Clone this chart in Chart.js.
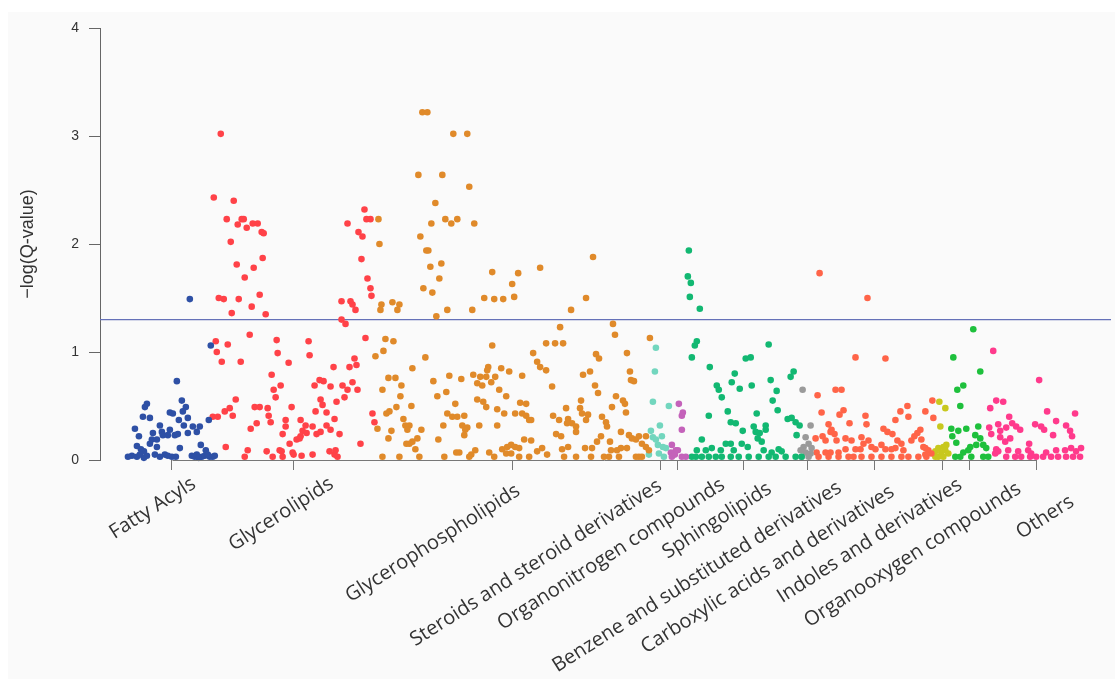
<!DOCTYPE html>
<html>
<head>
<meta charset="utf-8">
<script src="https://cdn.jsdelivr.net/npm/chart.js"></script>
<style>
  html, body { margin: 0; padding: 0; background: #fff; }
  #panel { position: absolute; left: 8px; top: 12px; width: 1107px; height: 667px; background: #fafafa; }
  #wrap { position: absolute; left: 0; top: 0; width: 1115px; height: 679px; }
</style>
</head>
<body>
<div id="panel"></div>
<div id="wrap"><canvas id="chart" width="1115" height="679"></canvas></div>
<script>
// categories, tick positions (metabolite order) and the significance line
const categories = ['Fatty Acyls', 'Glycerolipids', 'Glycerophospholipids', 'Steroids and steroid derivatives',
  'Organonitrogen compounds', 'Sphingolipids', 'Benzene and substituted derivatives',
  'Carboxylic acids and derivatives', 'Indoles and derivatives', 'Organooxygen compounds', 'Others'];
const tickPos = [72, 194, 413, 562, 579, 645, 709, 776, 844, 871, 938];
const yTicks = [0, 1, 2, 3, 4];
const threshold = 1.3;

// [order, -log(Q)] per class
const fattyAcyls = [[90,1.49],[111,1.06],[77,0.73],[82,0.55],[47,0.52],[45,0.49],[86,0.49],[83,0.45],[43,0.40],[50,0.39],[70,0.44],[73,0.43],[88,0.39],[79,0.37],[109,0.37],[60,0.32],[84,0.32],[93,0.31],[100,0.31],[35,0.29],[53,0.25],[62,0.26],[70,0.28],[88,0.25],[97,0.26],[39,0.22],[52,0.19],[57,0.19],[63,0.23],[68,0.23],[75,0.23],[78,0.24],[50,0.15],[101,0.14],[37,0.13],[41,0.10],[44,0.08],[57,0.12],[80,0.11],[106,0.09],[32,0.04],[37,0.03],[47,0.04],[55,0.05],[65,0.05],[72,0.03],[92,0.04],[95,0.03],[102,0.03],[110,0.03],[28,0.03],[40,0.05],[44,0.02],[60,0.03],[68,0.04],[76,0.03],[97,0.05],[99,0.02],[105,0.04],[108,0.05],[113,0.03],[115,0.04]];
const glycerolipids = [[121,3.02],[114,2.43],[134,2.40],[127,2.23],[142,2.23],[144,2.23],[138,2.18],[147,2.15],[153,2.19],[158,2.19],[162,2.11],[164,2.10],[131,2.02],[163,1.87],[137,1.81],[154,1.78],[145,1.69],[119,1.50],[124,1.49],[139,1.49],[160,1.53],[152,1.42],[132,1.36],[166,1.35],[150,1.16],[116,1.10],[128,1.07],[177,1.11],[209,1.10],[117,1.00],[178,0.99],[210,0.97],[122,0.91],[141,0.91],[189,0.90],[234,0.86],[172,0.79],[181,0.69],[215,0.69],[220,0.74],[224,0.73],[231,0.68],[174,0.65],[176,0.58],[136,0.56],[221,0.56],[237,0.54],[223,0.51],[155,0.49],[160,0.49],[168,0.48],[192,0.49],[130,0.48],[125,0.45],[216,0.45],[227,0.44],[113,0.40],[118,0.40],[133,0.41],[169,0.41],[186,0.37],[201,0.37],[157,0.34],[171,0.35],[186,0.31],[206,0.32],[213,0.31],[227,0.32],[231,0.28],[151,0.29],[203,0.27],[207,0.25],[217,0.24],[221,0.26],[183,0.24],[201,0.22],[197,0.19],[200,0.20],[190,0.15],[126,0.12],[148,0.09],[167,0.08],[180,0.09],[182,0.08],[193,0.07],[194,0.05],[202,0.04],[213,0.05],[230,0.08],[235,0.05],[183,0.03],[173,0.03],[145,0.03],[265,2.32],[248,2.19],[267,2.23],[271,2.23],[259,2.11],[263,2.07],[262,1.86],[268,1.68],[271,1.59],[272,1.52],[242,1.47],[251,1.47],[253,1.44],[256,1.39],[242,1.30],[246,1.26],[266,1.13],[255,0.94],[257,0.88],[250,0.86],[253,0.72],[243,0.69],[248,0.65],[258,0.65],[245,0.58],[273,0.43],[275,0.35],[235,0.38],[240,0.24],[261,0.15],[236,0.09],[238,0.03]];
const glycerophospholipids = [[323,3.22],[328,3.22],[354,3.02],[368,3.02],[319,2.64],[343,2.64],[370,2.53],[336,2.38],[279,2.23],[346,2.23],[358,2.23],[352,2.19],[332,2.19],[375,2.19],[321,2.07],[280,2.00],[327,1.94],[329,1.94],[331,1.79],[342,1.82],[340,1.68],[324,1.59],[333,1.55],[393,1.74],[419,1.73],[413,1.63],[441,1.78],[385,1.50],[395,1.49],[404,1.49],[415,1.51],[282,1.44],[281,1.39],[293,1.46],[300,1.44],[298,1.39],[348,1.39],[373,1.39],[337,1.33],[286,1.12],[294,1.10],[284,1.01],[276,0.96],[326,0.95],[393,1.06],[434,0.99],[447,1.08],[438,0.91],[441,0.86],[447,0.83],[313,0.85],[389,0.86],[388,0.83],[402,0.85],[410,0.82],[423,0.78],[374,0.79],[381,0.77],[387,0.77],[396,0.77],[289,0.76],[296,0.76],[350,0.78],[362,0.75],[334,0.73],[302,0.69],[378,0.71],[383,0.69],[392,0.72],[283,0.65],[347,0.63],[400,0.65],[338,0.59],[301,0.59],[407,0.59],[378,0.56],[384,0.54],[356,0.52],[387,0.49],[421,0.53],[427,0.52],[312,0.50],[297,0.49],[398,0.47],[290,0.45],[287,0.43],[348,0.43],[353,0.40],[358,0.40],[365,0.41],[405,0.43],[416,0.43],[423,0.43],[427,0.41],[430,0.37],[432,0.37],[304,0.38],[310,0.32],[306,0.32],[308,0.28],[380,0.32],[398,0.32],[363,0.32],[368,0.30],[366,0.28],[365,0.23],[344,0.32],[278,0.29],[292,0.27],[322,0.28],[289,0.20],[318,0.20],[313,0.17],[307,0.15],[310,0.15],[339,0.19],[425,0.19],[432,0.18],[316,0.10],[403,0.10],[408,0.12],[412,0.14],[416,0.12],[420,0.11],[357,0.07],[360,0.07],[376,0.09],[390,0.07],[372,0.05],[407,0.06],[412,0.06],[438,0.08],[443,0.11],[430,0.03],[448,0.05],[283,0.03],[300,0.03],[320,0.03],[345,0.03],[370,0.03],[395,0.03],[420,0.03],
  [494,1.88],[487,1.50],[472,1.39],[514,1.26],[516,1.16],[461,1.23],[456,1.08],[464,1.08],[551,1.13],[497,0.98],[500,0.94],[528,0.99],[484,0.79],[491,0.82],[531,0.82],[532,0.74],[535,0.73],[453,0.68],[496,0.69],[499,0.62],[517,0.59],[482,0.55],[513,0.49],[524,0.55],[526,0.52],[467,0.48],[481,0.48],[483,0.43],[489,0.42],[487,0.37],[454,0.41],[460,0.37],[527,0.44],[503,0.40],[469,0.38],[473,0.34],[477,0.31],[468,0.34],[507,0.35],[508,0.31],[457,0.24],[462,0.22],[477,0.26],[522,0.26],[502,0.22],[498,0.17],[530,0.23],[533,0.20],[537,0.19],[540,0.22],[547,0.22],[543,0.15],[511,0.17],[463,0.10],[469,0.12],[486,0.11],[493,0.11],[512,0.09],[518,0.09],[522,0.11],[528,0.11],[547,0.12],[550,0.09],[465,0.03],[477,0.03],[492,0.03],[505,0.03],[510,0.03],[520,0.03],[537,0.03],[540,0.03],[543,0.03]];
const steroids = [[557,1.04],[556,0.82],[554,0.54],[570,0.50],[561,0.32],[552,0.27],[554,0.21],[557,0.19],[563,0.22],[559,0.14],[564,0.12],[567,0.11],[565,0.03],[550,0.05],[560,0.06]];
const organonitrogen = [[580,0.52],[584,0.44],[583,0.41],[583,0.28],[573,0.14],[577,0.09],[579,0.09],[572,0.07],[573,0.03],[583,0.03],[587,0.03],[576,0.05]];
const sphingolipids = [[590,1.94],[589,1.70],[592,1.64],[591,1.51],[601,1.40],[598,1.10],[596,1.06],[593,0.95],[611,0.86],[636,0.80],[633,0.72],[618,0.69],[620,0.65],[623,0.58],[629,0.45],[610,0.41],[632,0.35],[637,0.34],[603,0.19],[598,0.09],[607,0.09],[613,0.11],[622,0.09],[627,0.15],[632,0.15],[635,0.09],[593,0.03],[597,0.03],[603,0.03],[610,0.03],[617,0.03],[623,0.03],[632,0.03],
  [670,1.07],[647,0.94],[652,0.95],[641,0.66],[653,0.69],[672,0.74],[678,0.64],[695,0.82],[692,0.77],[674,0.55],[679,0.46],[658,0.43],[689,0.38],[693,0.39],[697,0.35],[701,0.32],[655,0.31],[667,0.32],[667,0.28],[644,0.27],[657,0.26],[661,0.25],[659,0.20],[698,0.23],[643,0.15],[663,0.17],[649,0.12],[680,0.10],[683,0.08],[673,0.07],[665,0.09],[640,0.03],[650,0.03],[660,0.03],[670,0.03],[677,0.03],[687,0.03],[697,0.03],[703,0.03]];
const benzene = [[704,0.65],[712,0.32],[707,0.21],[710,0.15],[705,0.12],[713,0.11],[702,0.09],[707,0.07],[712,0.06],[703,0.03],[710,0.03]];
const carboxylic = [[721,1.73],[769,1.50],[757,0.95],[787,0.94],[737,0.65],[743,0.65],[719,0.60],[745,0.46],[741,0.42],[723,0.44],[767,0.41],[768,0.33],[751,0.34],[809,0.50],[802,0.45],[810,0.40],[797,0.37],[827,0.45],[730,0.33],[733,0.28],[736,0.24],[732,0.26],[785,0.29],[789,0.26],[794,0.24],[822,0.28],[819,0.25],[816,0.22],[813,0.18],[724,0.22],[727,0.18],[717,0.20],[747,0.20],[753,0.18],[738,0.18],[763,0.21],[770,0.18],[765,0.15],[773,0.12],[783,0.14],[799,0.18],[803,0.15],[797,0.11],[805,0.09],[823,0.19],[827,0.11],[747,0.10],[757,0.10],[762,0.10],[777,0.10],[787,0.10],[793,0.10],[718,0.07],[727,0.07],[732,0.07],[740,0.07],[720,0.03],[730,0.03],[740,0.03],[750,0.03],[755,0.03],[763,0.03],[773,0.03],[783,0.03],[793,0.03],[803,0.03],[810,0.03],[820,0.03],[828,0.03],[834,0.55],[835,0.39],[825,0.12],[830,0.09],[827,0.05],[833,0.06]];
const indoles = [[841,0.54],[847,0.48],[842,0.31],[848,0.14],[845,0.12],[840,0.11],[837,0.08],[843,0.07],[847,0.09],[850,0.06],[840,0.03],[845,0.03],[837,0.03]];
const organooxygen = [[875,1.21],[855,0.95],[882,0.82],[865,0.69],[859,0.65],[862,0.50],[853,0.29],[860,0.27],[868,0.29],[880,0.31],[854,0.22],[858,0.16],[877,0.23],[882,0.20],[878,0.14],[885,0.14],[888,0.11],[872,0.12],[870,0.09],[865,0.07],[862,0.03],[857,0.03],[873,0.03],[885,0.03],[890,0.03]];
const others = [[895,1.01],[941,0.74],[898,0.55],[905,0.54],[892,0.48],[911,0.40],[949,0.45],[977,0.43],[900,0.33],[891,0.30],[902,0.27],[908,0.30],[914,0.34],[918,0.31],[922,0.28],[937,0.33],[943,0.31],[946,0.28],[958,0.36],[968,0.32],[972,0.27],[974,0.22],[955,0.23],[893,0.24],[902,0.21],[907,0.17],[912,0.20],[931,0.15],[898,0.10],[900,0.08],[897,0.06],[910,0.09],[920,0.08],[930,0.09],[933,0.06],[948,0.07],[958,0.09],[967,0.09],[973,0.11],[983,0.11],[978,0.08],[908,0.03],[917,0.03],[923,0.03],[932,0.03],[938,0.03],[945,0.03],[953,0.03],[960,0.03],[968,0.03],[975,0.03],[982,0.03]];

const seriesData = [fattyAcyls, glycerolipids, glycerophospholipids, steroids, organonitrogen, sphingolipids,
  benzene, carboxylic, indoles, organooxygen, others];
const colors = ['#2e50a5', '#ff4248', '#e08a2a', '#72d6be', '#c462ba', '#12b872', '#9a9a9a',
  '#ff6448', '#c8c81e', '#1ec03c', '#ff3a8c'];

// label placement tweaks (px from tick, along the axis)
const labelNudge = [[22,22],[38,22],[6,29],[-1,24],[45,23],[26,27],[32,26],[18,30],[18,23],[50,27],[36,40]];

const axisText = {
  id: 'axisText',
  afterDraw(chart){
    const { ctx, chartArea } = chart;
    const x = chart.scales.x;
    ctx.save();
    // bottom axis only spans first..last tick
    ctx.strokeStyle = '#777'; ctx.lineWidth = 1;
    ctx.beginPath();
    ctx.moveTo(Math.round(x.getPixelForValue(tickPos[0])) + 0.5, chartArea.bottom + 0.5);
    ctx.lineTo(Math.round(x.getPixelForValue(tickPos[tickPos.length-1])) + 0.5, chartArea.bottom + 0.5);
    ctx.stroke();

    ctx.fillStyle = '#333';
    ctx.font = '20px "Open Sans", "Noto Sans", sans-serif';
    ctx.textAlign = 'right'; ctx.textBaseline = 'middle';
    categories.forEach((c, i) => {
      ctx.save();
      ctx.translate(x.getPixelForValue(tickPos[i]) + labelNudge[i][0], chartArea.bottom + labelNudge[i][1]);
      ctx.rotate(-32.5 * Math.PI / 180);
      ctx.fillText(c, 0, 0);
      ctx.restore();
    });

    ctx.font = '18px "Liberation Sans", Arial, sans-serif';
    ctx.textAlign = 'center';
    ctx.translate(28, (chartArea.top + chartArea.bottom) / 2);
    ctx.rotate(-Math.PI / 2);
    ctx.fillText('\u2212log(Q-value)', 0, 0);
    ctx.restore();
  }
};

const datasets = categories.map((c, i) => ({
  type: 'scatter',
  label: c,
  data: seriesData[i].map(p => ({ x: p[0], y: p[1] })),
  backgroundColor: colors[i],
  borderWidth: 0,
  pointRadius: 3.3,
  clip: false
}));
datasets.push({
  type: 'line',
  label: 'threshold',
  data: [{ x: 0, y: threshold }, { x: 1013, y: threshold }],
  borderColor: '#6571b8',
  borderWidth: 1.3,
  pointRadius: 0
});

new Chart(document.getElementById('chart'), {
  type: 'scatter',
  data: { datasets },
  options: {
    responsive: false,
    animation: false,
    layout: { padding: { top: 28, left: 0, right: 2, bottom: 209 } },
    plugins: { legend: { display: false }, tooltip: { enabled: false } },
    scales: {
      x: {
        type: 'linear', min: 0, max: 1013,
        afterBuildTicks(s){ s.ticks = tickPos.map(v => ({ value: v })); },
        ticks: { display: false, autoSkip: false },
        grid: { drawOnChartArea: false, tickLength: 10, color: '#777' },
        border: { display: false },
        afterFit(s){ s.height = 10; }
      },
      y: {
        min: 0, max: 4,
        afterBuildTicks(s){ s.ticks = yTicks.map(v => ({ value: v })); },
        ticks: { color: '#333', padding: 10, font: { family: '"Liberation Sans", Arial, sans-serif', size: 14 } },
        grid: { drawOnChartArea: false, tickLength: 11, color: '#666' },
        border: { display: true, color: '#666' },
        afterFit(s){ s.width = 100; }
      }
    }
  },
  plugins: [axisText]
});
</script>
</body>
</html>
